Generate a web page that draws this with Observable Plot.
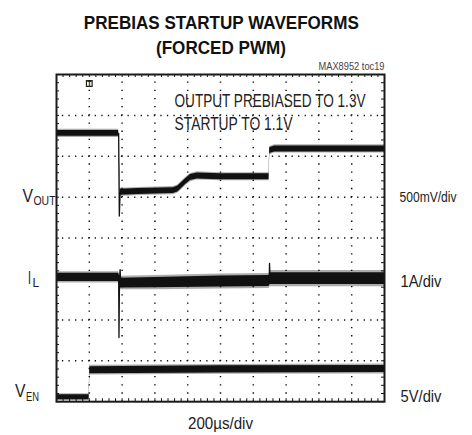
<!DOCTYPE html>
<html><head><meta charset="utf-8">
<script src="https://cdn.jsdelivr.net/npm/d3@7"></script>
<script src="https://cdn.jsdelivr.net/npm/@observablehq/plot@0.6"></script>
<style>body{margin:0;background:#fff;} svg{display:block;}</style>
</head><body><div id="chart"></div>
<script>
// ---------------- data ----------------
const titleLines = ["PREBIAS STARTUP WAVEFORMS", "(FORCED PWM)"];
const chartId = "MAX8952 toc19";
const noteLines = ["OUTPUT PREBIASED TO 1.3V", "STARTUP TO 1.1V"];
const timeLabel = "200µs/div";
const timeSpanUs = 2000;           // 10 div x 200 µs
const divisions = 8;               // vertical divisions
const channelNames = [["V", "OUT"], ["I", "L"], ["V", "EN"]];
const channelScaleLabels = ["500mV/div", "1A/div", "5V/div"];
const channelPerDiv = [0.5, 1, 5];     // V, A, V per division
const channelZeroDiv = [4, 3, 0];      // zero level, divisions from bottom

// VOUT (V): level and peak-to-peak noise
const voutT      = [0, 379, 388, 500, 713, 740, 756, 787, 817, 858, 1000, 1296, 1300, 1330, 2000];
const voutV      = [1.28, 1.28, 0.56, 0.57, 0.58, 0.60, 0.63, 0.69, 0.74, 0.76, 0.75, 0.75, 1.07, 1.09, 1.09];
const voutRipple = [0.1, 0.1, 0.1, 0.1, 0.1, 0.1, 0.1, 0.1, 0.1, 0.1, 0.1, 0.1, 0.1, 0.1, 0.1];
const voutSpikeT = [379, 383, 388];
const voutSpikeV = [1.28, 0.27, 0.56];

// IL (A)
const ilT      = [0, 379, 390, 600, 1000, 1296, 1302, 2000];
const ilA      = [0.04, 0.04, -0.10, -0.09, -0.06, -0.05, 0.01, 0.01];
const ilRipple = [0.28, 0.28, 0.33, 0.35, 0.37, 0.37, 0.40, 0.40];
const ilSpike1T = [379, 381, 384, 388, 391];
const ilSpike1A = [0.04, -1.43, 0.0, 0.23, -0.10];
const ilSpike2T = [1297, 1299, 1302];
const ilSpike2A = [-0.05, 0.38, 0.01];

// VEN (V)
const venT      = [0, 199, 203, 1000, 2000];
const venV      = [0.55, 0.55, 3.85, 3.95, 4.0];
const venRipple = [0.85, 0.85, 1.2, 1.2, 1.2];

const triggerT = 200;

// ---------------- layout ----------------
const W = 472, H = 435, ML = 56, MR = 88, MT = 74, MB = 33.8;
const fx = px => (px - ML) / (W - ML - MR) * timeSpanUs;
const fy = py => (H - MB - py) / (H - MB - MT) * divisions;
const FONT = "Liberation Sans, Arial, Helvetica, sans-serif";

const toDiv = (ch, v) => channelZeroDiv[ch] + v / channelPerDiv[ch];
function band(ch, T, V, R) {
  return T.map((t, i) => ({t,
    lo: toDiv(ch, V[i] - R[i] * 0.36), hi: toDiv(ch, V[i] + R[i] * 0.36),
    lo2: toDiv(ch, V[i] - R[i] * 0.5), hi2: toDiv(ch, V[i] + R[i] * 0.5)}));
}
function pts(ch, T, V) { return T.map((t, i) => ({t, y: toDiv(ch, V[i])})); }

const vout = band(0, voutT, voutV, voutRipple);
const il = band(1, ilT, ilA, ilRipple);
const ven = band(2, venT, venV, venRipple);
const spikes = [pts(0, voutSpikeT, voutSpikeV), pts(1, ilSpike1T, ilSpike1A), pts(1, ilSpike2T, ilSpike2A)];

const labels = [
  {text: titleLines[0], x: 220.8, y: 28.5, size: 18.5, weight: "bold", anchor: "middle", w: 275, fill: "#111"},
  {text: titleLines[1], x: 220.5, y: 53, size: 18.5, weight: "bold", anchor: "middle", w: 130, fill: "#111"},
  {text: chartId, x: 384, y: 69.5, size: 10, weight: "normal", anchor: "end", w: 66, fill: "#444"},
  {text: noteLines[0], x: 174, y: 106.5, size: 17.5, weight: "normal", anchor: "start", w: 191, fill: "#222"},
  {text: noteLines[1], x: 174, y: 129, size: 17.5, weight: "normal", anchor: "start", w: 118, fill: "#222"},
  {text: channelScaleLabels[0], x: 399, y: 201.5, size: 15.5, weight: "normal", anchor: "start", w: 57, fill: "#222"},
  {text: channelScaleLabels[1], x: 400, y: 286, size: 16.5, weight: "normal", anchor: "start", w: 41, fill: "#222"},
  {text: channelScaleLabels[2], x: 400, y: 401, size: 16.5, weight: "normal", anchor: "start", w: 41, fill: "#222"},
  {text: timeLabel, x: 220, y: 428.5, size: 16.5, weight: "normal", anchor: "middle", w: 65, fill: "#222"},
  {text: channelNames[0][0], x: 22, y: 201.5, size: 18, weight: "normal", anchor: "start", w: 10.5, fill: "#222"},
  {text: channelNames[0][1], x: 33, y: 204, size: 13, weight: "normal", anchor: "start", w: 22, fill: "#222"},
  {text: channelNames[1][0], x: 27.5, y: 283.3, size: 18, weight: "normal", anchor: "start", w: 3, fill: "#222"},
  {text: channelNames[1][1], x: 32, y: 286.7, size: 13, weight: "normal", anchor: "start", w: 6.6, fill: "#222"},
  {text: channelNames[2][0], x: 14.5, y: 396.7, size: 18, weight: "normal", anchor: "start", w: 10.5, fill: "#222"},
  {text: channelNames[2][1], x: 25.5, y: 400, size: 13, weight: "normal", anchor: "start", w: 13, fill: "#222"}
];

const gridT = d3.range(200, 2000, 200);
const gridD = d3.range(1, 8, 1);
const minorT = d3.range(0, 2000.1, 40);
const minorD = d3.range(0, 8.01, 0.2);
const tickLenT = 3 / (W - ML - MR) * timeSpanUs;
const tickLenD = 3 / (H - MB - MT) * divisions;

const traceMarks = [];
for (const b of [vout, il, ven]) {
  traceMarks.push(Plot.areaY(b, {x: "t", y1: "lo2", y2: "hi2", fill: "#111", fillOpacity: 0.35}));
  traceMarks.push(Plot.areaY(b, {x: "t", y1: "lo", y2: "hi", fill: "#111"}));
}
for (const s of spikes) traceMarks.push(Plot.line(s, {x: "t", y: "y", stroke: "#111", strokeWidth: 1.3}));

const chart = Plot.plot({
  width: W, height: H,
  marginLeft: ML, marginRight: MR, marginTop: MT, marginBottom: MB,
  x: {domain: [0, timeSpanUs], axis: null},
  y: {domain: [0, divisions], axis: null},
  style: {fontFamily: FONT, background: "white", overflow: "visible"},
  marks: [
    Plot.ruleX(gridT, {x: d => d, stroke: "#111", strokeWidth: 1.5, strokeDasharray: "1.3,6.88", strokeDashoffset: 0.65}),
    Plot.ruleY(gridD, {y: d => d, stroke: "#111", strokeWidth: 1.5, strokeDasharray: "1.3,5.26", strokeDashoffset: 0.65}),
    Plot.ruleX(minorT, {x: d => d, y1: divisions, y2: divisions - tickLenD, stroke: "#111"}),
    Plot.ruleX(minorT, {x: d => d, y1: 0, y2: tickLenD, stroke: "#111"}),
    Plot.ruleY(minorD, {y: d => d, x1: 0, x2: tickLenT, stroke: "#111"}),
    Plot.ruleY(minorD, {y: d => d, x1: timeSpanUs, x2: timeSpanUs - tickLenT, stroke: "#111"}),
    ...traceMarks,
    Plot.dot([triggerT], {x: d => d, y: divisions - 0.22, symbol: "square", r: 3.2, fill: "white", stroke: "#222", strokeWidth: 1.2}),
    Plot.text([triggerT], {x: d => d, y: divisions - 0.22, text: () => "T", fontSize: 7, fontWeight: "bold", fill: "#111"}),
    Plot.frame({stroke: "#1a1a1a", strokeWidth: 2}),
    ...labels.map((L, i) => Plot.text([L], {
      x: d => fx(d.x), y: d => fy(d.y), text: d => d.text,
      fontSize: L.size, fontWeight: L.weight, textAnchor: L.anchor, lineAnchor: "bottom",
      fill: L.fill, fontFamily: FONT, className: "lbl" + i
    }))
  ]
});
labels.forEach((L, i) => {
  const el = chart.querySelector(".lbl" + i + " text");
  if (el) { el.setAttribute("textLength", L.w); el.setAttribute("lengthAdjust", "spacingAndGlyphs"); }
});
document.getElementById("chart").appendChild(chart);
</script>
</body></html>
